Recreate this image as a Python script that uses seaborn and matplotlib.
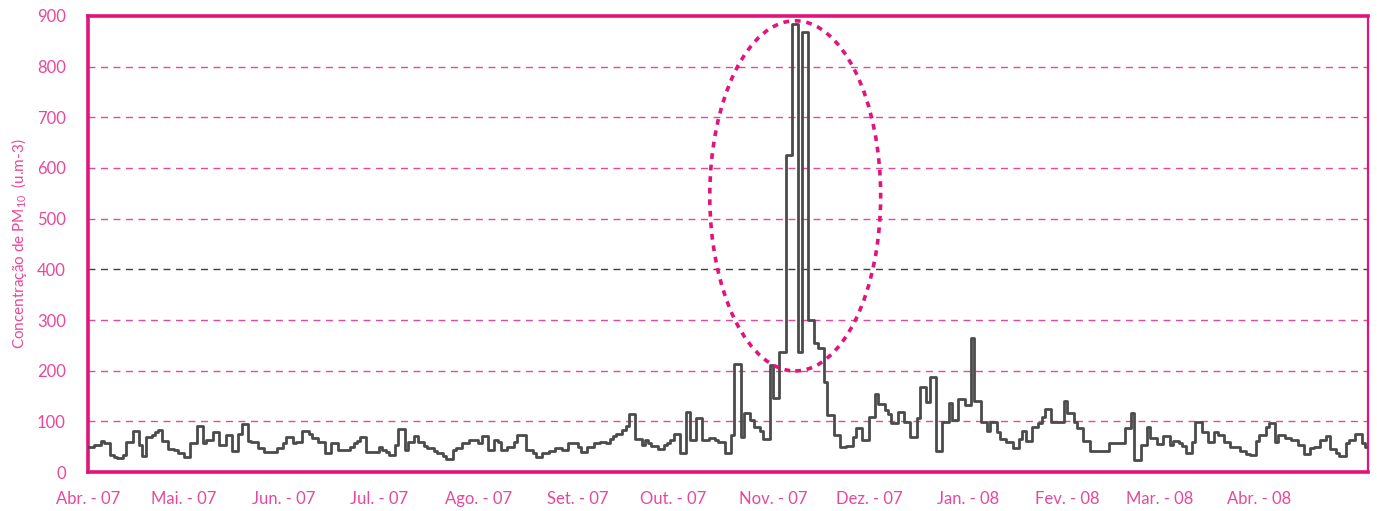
import numpy as np
import pandas as pd
import matplotlib
matplotlib.use("Agg")
import matplotlib.pyplot as plt
import matplotlib.dates as mdates
from matplotlib.patches import Ellipse
import seaborn as sns

# daily PM10 values, one list per month
abr07 = [50, 50, 53, 53, 61, 57, 57, 34, 29, 27, 27, 34, 59, 59, 80, 80, 53, 32, 70, 70,
         74, 78, 83, 62, 62, 45, 45, 43, 38, 38]
mai07 = [29, 29, 58, 58, 90, 90, 58, 64, 64, 78, 78, 53, 53, 73, 73, 42, 42, 76, 95, 95,
         62, 60, 60, 47, 47, 40, 40, 40, 40, 47, 47]
jun07 = [58, 70, 70, 58, 60, 60, 80, 80, 75, 67, 67, 60, 60, 38, 38, 58, 58, 43, 43, 43,
         43, 50, 57, 62, 70, 70, 39, 39, 40, 40]
jul07 = [50, 43, 40, 34, 34, 53, 84, 84, 43, 60, 60, 71, 60, 60, 51, 47, 47, 41, 37, 37,
         32, 26, 26, 43, 47, 47, 57, 57, 63, 63, 63]
ago07 = [57, 71, 71, 43, 43, 64, 60, 43, 43, 50, 50, 60, 73, 73, 73, 43, 43, 37, 30, 30,
         37, 37, 42, 42, 47, 47, 43, 43, 57, 57, 57]
set07 = [50, 40, 40, 50, 50, 57, 57, 60, 60, 57, 66, 71, 76, 76, 82, 91, 114, 114, 66, 66,
         53, 63, 57, 51, 51, 45, 45, 53, 57, 63]
out07 = [75, 75, 38, 38, 119, 64, 64, 106, 106, 63, 63, 68, 68, 64, 60, 60, 38, 38, 73, 214,
         214, 70, 116, 116, 103, 88, 88, 80, 65, 65, 211]
nov07 = [147, 147, 237, 237, 626, 626, 884, 884, 237, 869, 869, 300, 300, 254, 244, 244, 178,
         112, 112, 73, 73, 49, 49, 51, 51, 70, 86, 86, 64, 64]
dez07 = [109, 109, 153, 134, 134, 122, 114, 97, 97, 118, 118, 99, 99, 70, 70, 106, 168, 168,
         138, 188, 188, 41, 41, 99, 99, 136, 103, 103, 145, 145, 132]
jan08 = [132, 265, 140, 140, 99, 99, 80, 99, 99, 78, 66, 66, 60, 60, 47, 47, 65, 80, 61, 61,
         88, 88, 96, 109, 124, 124, 99, 99, 99, 99, 140]
fev08 = [116, 116, 99, 86, 86, 61, 61, 41, 41, 41, 41, 41, 41, 57, 57, 57, 57, 57, 86, 86,
         117, 24, 24, 53, 53, 89, 68, 68, 55]
mar08 = [55, 71, 71, 53, 62, 62, 57, 51, 38, 38, 60, 99, 99, 78, 78, 60, 60, 78, 73, 73,
         60, 60, 50, 50, 50, 42, 42, 36, 34, 34, 62]
abr08 = [73, 73, 89, 96, 96, 60, 73, 73, 68, 68, 64, 64, 53, 53, 36, 36, 47, 50, 50, 63,
         63, 71, 45, 45, 38, 32, 32, 57, 63, 63]
mai08 = [76, 76, 58, 49]

month_ticks = pd.date_range("2007-04-01", "2008-04-01", freq="MS")
month_labels = ["Abr. - 07", "Mai. - 07", "Jun. - 07", "Jul. - 07", "Ago. - 07", "Set. - 07",
                "Out. - 07", "Nov. - 07", "Dez. - 07", "Jan. - 08", "Fev. - 08", "Mar. - 08",
                "Abr. - 08"]
y_ticks = [0, 100, 200, 300, 400, 500, 600, 700, 800, 900]

values = abr07 + mai07 + jun07 + jul07 + ago07 + set07 + out07 + nov07 + dez07 + jan08 + fev08 + mar08 + abr08 + mai08
dates = pd.date_range("2007-04-01", periods=len(values), freq="D")
x_end = dates[-1] + pd.Timedelta(days=1)
df = pd.DataFrame({"data": list(dates) + [x_end], "pm10": values + [values[-1]]})

MAG = "#E2147B"
PINK = "#E8489A"

sns.set_style("white")
plt.rcParams["font.family"] = ["Lato", "DejaVu Sans"]

fig = plt.figure(figsize=(13.77, 5.11), dpi=100)
ax = fig.add_axes([0.0639, 0.0763, 0.9296, 0.8924])

for yv in y_ticks[1:-1]:
    col = "#4a3a42" if yv == 400 else PINK
    ax.axhline(yv, color=col, lw=1.0, ls=(0, (5, 4)), zorder=1)

sns.lineplot(data=df, x="data", y="pm10", drawstyle="steps-post", color="#4b4b4b",
             lw=2.0, ax=ax, zorder=3)

# dotted ellipse around the November episode
ell = Ellipse((mdates.date2num(pd.Timestamp("2007-11-08")), 545), width=53.4, height=691,
              fill=False, ec=MAG, lw=2.6, ls=(0, (1.6, 1.6)), zorder=4)
ax.add_patch(ell)

ax.set_xlim(pd.Timestamp("2007-04-01"), pd.Timestamp("2008-05-05"))
ax.set_ylim(0, 900)
ax.set_yticks(y_ticks)
ax.set_xticks(month_ticks)
ax.set_xticklabels(month_labels)

for side in ["left", "bottom", "top"]:
    ax.spines[side].set_color(MAG)
    ax.spines[side].set_linewidth(2.6)
ax.spines["right"].set_color(MAG)
ax.spines["right"].set_linewidth(1.6)

ax.tick_params(axis="y", length=14, width=2.6, color=MAG, labelcolor=PINK, labelsize=12, pad=2)
ax.tick_params(axis="x", length=15, width=2.6, color=MAG, labelcolor=PINK, labelsize=12, pad=-1)
ax.set_xlabel("")
ax.set_ylabel(r"Concentração de PM$_{\mathregular{10}}$  (u.m-3)", color=PINK, fontsize=11,
              labelpad=6)

fig.savefig("out.png", dpi=100)
